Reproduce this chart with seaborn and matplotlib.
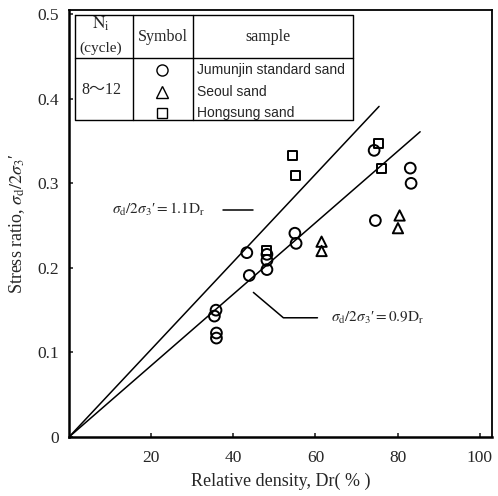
import numpy as np
import pandas as pd
import seaborn as sns
import matplotlib
matplotlib.use('Agg')
import matplotlib.pyplot as plt

# data (Dr in %, stress ratio)
jumunjin_dr = [35.8, 35.4, 35.9, 35.9, 43.3, 43.9, 48.2, 48.2, 48.2, 55.0, 55.3, 74.3, 74.6, 83.1, 83.3]
jumunjin_sr = [0.150, 0.143, 0.123, 0.117, 0.218, 0.191, 0.216, 0.209, 0.198, 0.241, 0.229, 0.339, 0.256, 0.318, 0.300]
seoul_dr = [61.5, 61.5, 80.5, 80.1]
seoul_sr = [0.231, 0.220, 0.262, 0.247]
hongsung_dr = [54.5, 55.1, 75.4, 76.2, 48.2]
hongsung_sr = [0.333, 0.309, 0.347, 0.317, 0.221]

# fitted lines, end points
upper_dr = [0, 75.5]
upper_sr = [0, 0.391]
lower_dr = [0, 85.5]
lower_sr = [0, 0.361]

samples = ['Jumunjin standard sand', 'Seoul sand', 'Hongsung sand']
sample_markers = ['o', '^', 's']
x_ticks = [20, 40, 60, 80, 100]
y_ticks = [0, 0.1, 0.2, 0.3, 0.4, 0.5]
y_ticklabels = ['0', '0.1', '0.2', '0.3', '0.4', '0.5']

sns.set_style('ticks')
plt.rcParams['font.family'] = ['Liberation Serif', 'Noto Sans CJK JP']
plt.rcParams['mathtext.fontset'] = 'stix'

df = pd.concat([
    pd.DataFrame({'Dr': jumunjin_dr, 'SR': jumunjin_sr, 'sample': samples[0]}),
    pd.DataFrame({'Dr': seoul_dr, 'SR': seoul_sr, 'sample': samples[1]}),
    pd.DataFrame({'Dr': hongsung_dr, 'SR': hongsung_sr, 'sample': samples[2]}),
])

fig = plt.figure(figsize=(4.98, 4.96), dpi=100)
ax = fig.add_axes([69 / 498, 59 / 496, 423 / 498, 427 / 496])

sns.lineplot(x=upper_dr, y=upper_sr, color='black', lw=1.1, ax=ax)
sns.lineplot(x=lower_dr, y=lower_sr, color='black', lw=1.1, ax=ax)

sizes = {'o': 60, '^': 55, 's': 42}
for name, m in zip(samples, sample_markers):
    sub = df[df['sample'] == name]
    sns.scatterplot(data=sub, x='Dr', y='SR', marker=m, s=sizes[m],
                    facecolor='none', edgecolor='black', linewidth=1.4, ax=ax, zorder=3)
for coll in ax.collections:
    coll.set_facecolor('none')
    coll.set_edgecolor('black')

ax.set_xlim(0, 103)
ax.set_ylim(0, 0.505)
ax.set_xticks(x_ticks)
ax.set_xticklabels([str(t) for t in x_ticks])
ax.set_yticks(y_ticks)
ax.set_yticklabels(y_ticklabels)
ax.tick_params(direction='in', length=3, width=1.2, labelsize=12.5, pad=9)
ax.tick_params(axis='y', pad=7)
for s in ax.spines.values():
    s.set_linewidth(1.3)
    s.set_color('black')
ax.spines['left'].set_linewidth(1.8)
ax.spines['bottom'].set_linewidth(1.8)

ax.set_xlabel('Relative density, Dr( % )', fontsize=13, labelpad=5)
ax.set_ylabel(r"Stress ratio, $\sigma_\mathrm{d}/2\sigma_3$′", fontsize=13, labelpad=8)

# line labels
ax.text(10.5, 0.269, r"$\sigma_\mathrm{d}/2\sigma_3$′$ = 1.1\mathrm{D_r}$", fontsize=11, va='center')
ax.plot([37.5, 44.9], [0.268, 0.268], color='black', lw=1.1)
ax.text(63.7, 0.141, r"$\sigma_\mathrm{d}/2\sigma_3$′$ = 0.9\mathrm{D_r}$", fontsize=11, va='center')
ax.plot([44.9, 52.2, 60.5], [0.171, 0.141, 0.141], color='black', lw=1.1)

# legend table (axes fraction)
tr = ax.transAxes
def fx(px):
    return (px - 69) / 423
def fy(py):
    return (437 - py) / 427

x0, x1, x2, x3 = fx(75), fx(133), fx(193), fx(353)
y0, y1, y2 = fy(15), fy(58), fy(120)
lk = dict(color='black', lw=1.0, transform=tr, clip_on=False)
ax.plot([x0, x3, x3, x0, x0], [y0, y0, y2, y2, y0], **lk)
ax.plot([x0, x3], [y1, y1], **lk)
ax.plot([x1, x1], [y0, y2], **lk)
ax.plot([x2, x2], [y0, y2], **lk)

ax.text(fx(101), fy(24), r'$\mathrm{N_i}$', transform=tr, ha='center', va='center', fontsize=12.5)
ax.text(fx(101), fy(48), '(cycle)', transform=tr, ha='center', va='center', fontsize=11)
ax.text(fx(163), fy(37), 'Symbol', transform=tr, ha='center', va='center', fontsize=11.5)
ax.text(fx(268), fy(37), 'sample', transform=tr, ha='center', va='center', fontsize=11.5)
ax.text(fx(101), fy(90), '8～12', transform=tr, ha='center', va='center', fontsize=11.5)

row_y = [70, 92, 113]
for name, m, py in zip(samples, sample_markers, row_y):
    ax.plot([fx(162)], [fy(py)], marker=m, ms=8 if m != 's' else 7, mfc='none', mec='black',
            mew=1.0, transform=tr, clip_on=False)
    ax.text(fx(197), fy(py), name, transform=tr, ha='left', va='center', fontsize=10,
            family=['Liberation Sans', 'DejaVu Sans'])

fig.savefig('out.png', dpi=100)
